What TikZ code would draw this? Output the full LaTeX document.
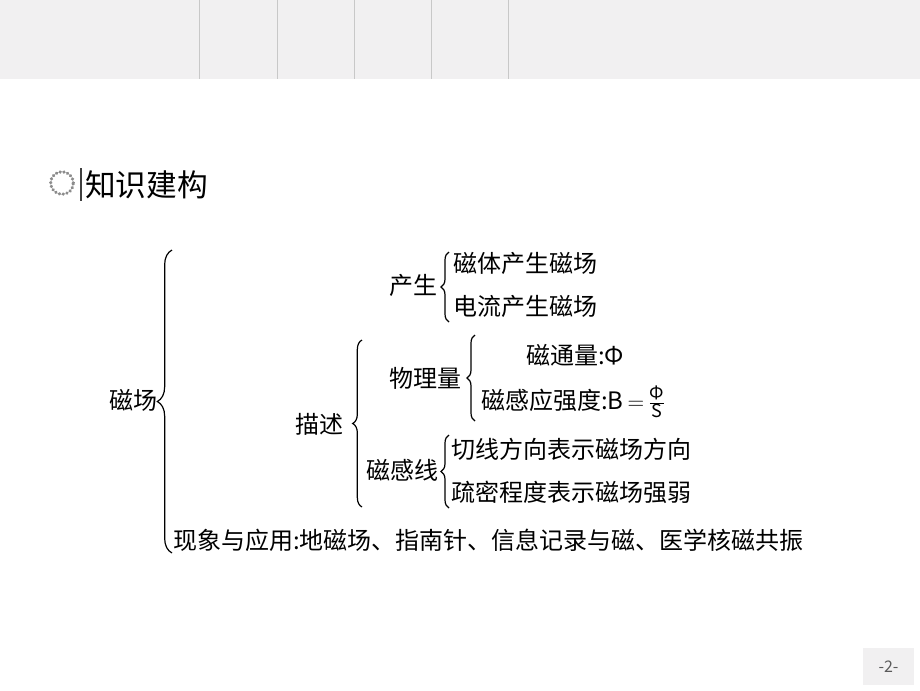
\documentclass[tikz,border=0pt]{standalone}
\usepackage{fontspec}
\newfontfamily\cjk{Noto Sans CJK SC}
\usetikzlibrary{decorations.pathreplacing}
\definecolor{bandgray}{RGB}{241,240,241}
\definecolor{bandline}{RGB}{200,200,200}
\definecolor{numgray}{RGB}{90,90,90}

\begin{document}
\begin{tikzpicture}[x=0.75pt,y=0.75pt,yscale=-1,xscale=1,
  txt/.style={anchor=west,inner sep=0.75pt,font=\cjk\fontsize{18}{20}\selectfont},
  brc/.style={decorate,decoration={brace,amplitude=#1},line width=0.9pt},
  brc/.default=6]
%set diagram left start at 0, and has height of 690
\path[use as bounding box,fill=white] (0,0) rectangle (920,690);

%Shape: top band
\fill[bandgray] (0,0) rectangle (920,79);
\foreach \x in {199,277,354,431,508}
  \draw[bandline,line width=0.6pt] (\x,0) -- (\x,79);

%Shape: page number box
\fill[bandgray] (863,648) rectangle (914,685);
\node[font=\cjk\fontsize{12}{13}\selectfont,text=numgray,inner sep=0pt] (pagenum) at (888.5,666.5) {-2-};

%Shape: heading bullet and bar
\node[circle,draw=gray!90,line width=2.4pt,dash pattern=on 0.3pt off 2.6pt,line cap=round,minimum size=17pt,inner sep=0pt] (bullet) at (62,183) {};
\draw[gray!50!black,line width=1.6pt] (81,168) -- (81,201);
% Text Node
\node[anchor=west,inner sep=0pt,font=\cjk\fontsize{23}{26}\selectfont] (heading) at (85,185) {知识建构};

% Text Node
\node[txt] (cichang) at (108,400) {磁场};
% Text Node
\node[txt] (chansheng) at (388,285) {产生};
% Text Node
\node[txt] (citi) at (452,263) {磁体产生磁场};
% Text Node
\node[txt] (dianliu) at (452,306) {电流产生磁场};
% Text Node
\node[txt] (miaoshu) at (294,424) {描述};
% Text Node
\node[txt] (wuliliang) at (388,378) {物理量};
% Text Node
\node[txt] (citongliang) at (525,355) {磁通量:Φ};
% Text Node
\node[txt] (ciganying) at (480,402) {磁感应强度:B\,$=$\,$\frac{\hbox{\cjk\fontsize{13.5}{14}\selectfont Φ}}{\hbox{\cjk\fontsize{13.5}{14}\selectfont S}}$};
% Text Node
\node[txt] (ciganxian) at (365,470) {磁感线};
% Text Node
\node[txt] (qiexian) at (450,449) {切线方向表示磁场方向};
% Text Node
\node[txt] (shumi) at (450,492) {疏密程度表示磁场强弱};
% Text Node
\node[txt] (xianxiang) at (172,540) {现象与应用:地磁场、指南针、信息记录与磁、医学核磁共振};

%Braces
\coordinate (bigtop) at (172,250);
\coordinate (bigbot) at (172,553);
\coordinate (cstop) at (449,252);
\coordinate (csbot) at (449,322);
\coordinate (mstop) at (362,340);
\coordinate (msbot) at (362,507);
\coordinate (wltop) at (475,335);
\coordinate (wlbot) at (475,421);
\coordinate (cxtop) at (449,435);
\coordinate (cxbot) at (449,508);
\draw[brc=11] (bigbot) -- (bigtop);
\draw[brc=7] (msbot) -- (mstop);
\draw[brc=6] (csbot) -- (cstop);
\draw[brc=6] (wlbot) -- (wltop);
\draw[brc=6] (cxbot) -- (cxtop);

\end{tikzpicture}
\end{document}
